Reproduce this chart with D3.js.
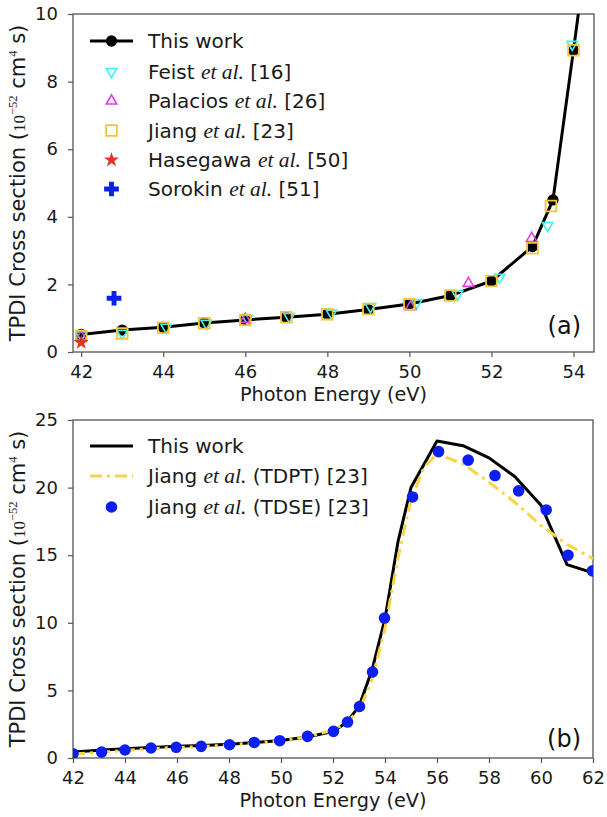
<!DOCTYPE html>
<html><head><meta charset="utf-8">
<script src="https://cdn.jsdelivr.net/npm/d3@7"></script>
<style>
body{margin:0;background:#fff;}
svg{display:block;font-family:"DejaVu Sans",sans-serif;}
</style></head><body>
<svg id="c" width="607" height="817"></svg>
<script>
// ---------- Panel (a) data ----------
const thisWorkA_x = [42,43,44,45,46,47,48,49,50,51,52,53,53.5,54,54.5];
const thisWorkA_y = [0.52,0.65,0.73,0.86,0.95,1.03,1.12,1.26,1.42,1.67,2.10,3.12,4.50,8.93,13.5];
const feist_x = [42,43.0,44.07,45.05,46.05,47.07,48.1,49.05,50.18,51.17,52.2,53.37,53.97];
const feist_y = [0.50,0.55,0.73,0.85,0.99,1.05,1.15,1.34,1.46,1.71,2.21,3.74,9.10];
const palacios_x = [42,46,50.03,51.44,52.98];
const palacios_y = [0.45,0.97,1.34,2.03,3.36];
const jiangA_x = [42,43,44,45,46,47,48,49,50,51,52,53,53.45,54];
const jiangA_y = [0.47,0.55,0.72,0.85,0.95,1.03,1.12,1.27,1.41,1.67,2.10,3.07,4.32,8.93];
const hasegawa_x = [42];
const hasegawa_y = [0.28];
const sorokin_x = [42.8];
const sorokin_y = [1.59];
const ticksAx = [42,44,46,48,50,52,54];
const ticksAy = [0,2,4,6,8,10];

// ---------- Panel (b) data ----------
const thisWorkB_x = [42,43,44,45,46,47,48,49,50,51,52,52.5,53,53.5,54,54.5,55,56,57,58,59,60,61,62];
const thisWorkB_y = [0.45,0.58,0.68,0.78,0.86,0.93,1.02,1.15,1.30,1.55,1.95,2.60,3.80,6.50,10.30,16.0,20.0,23.45,23.1,22.2,20.8,18.7,14.3,13.7];
const tdpt_x = [42,43,44,45,46,47,48,49,50,51,52,52.5,53,53.5,54,54.5,55,55.5,56,57,58,59,60,61,62];
const tdpt_y = [0.30,0.42,0.55,0.70,0.78,0.85,0.97,1.12,1.27,1.58,2.05,2.60,3.50,5.80,9.60,14.8,19.1,21.5,22.5,21.75,20.4,18.9,17.2,15.8,14.75];
const tdse_x = [42.0,43.1,44.0,45.0,45.97,46.93,48.02,48.97,49.95,51.02,52.02,52.56,53.02,53.52,53.98,55.06,56.06,57.2,58.23,59.14,60.2,61.04,61.98];
const tdse_y = [0.32,0.44,0.59,0.74,0.79,0.86,0.98,1.15,1.28,1.60,1.97,2.66,3.81,6.36,10.35,19.31,22.66,22.03,20.89,19.76,18.35,15.0,13.84];
const ticksBx = [42,44,46,48,50,52,54,56,58,60,62];
const ticksBy = [0,5,10,15,20,25];

const zip = (xs, ys) => xs.map((x, i) => ({x, y: ys[i]}));

const svg = d3.select("#c");
const C = {black:"#000", cyan:"#3ff2f2", magenta:"#e43de4", gold:"#f2c53d", red:"#e8302a", blue:"#0b1ff0", yellow:"#f7d448", spine:"#555"};
const FS_TICK = 18, FS_LAB = 19.3, FS_YLAB = 21, FS_LEG = 20, FS_IT = 21.5;

function panel(g, xs, ys, xt, yt, centerY) {
  const [x0, x1] = xs.range(), [y0, y1] = ys.range();
  g.append("rect").attr("x", x0).attr("y", y1).attr("width", x1 - x0).attr("height", y0 - y1)
    .attr("fill", "none").attr("stroke", C.spine).attr("stroke-width", 1.3);
  const ax = g.append("g").attr("transform", `translate(0,${y0})`)
    .call(d3.axisBottom(xs).tickValues(xt).tickSize(5).tickPadding(8).tickFormat(d3.format("d")));
  const ay = g.append("g").attr("transform", `translate(${x0},0)`)
    .call(d3.axisLeft(ys).tickValues(yt).tickSize(5).tickPadding(10).tickFormat(d3.format("d")));
  [ax, ay].forEach(a => {
    a.select(".domain").remove();
    a.selectAll(".tick line").attr("stroke", C.spine).attr("stroke-width", 1.2);
    a.selectAll(".tick text").attr("fill", "#1a1a1a").attr("font-size", FS_TICK)
      .attr("font-family", "DejaVu Sans");
  });
  g.append("text").attr("x", (x0 + x1) / 2).attr("y", y0 + 49).attr("text-anchor", "middle")
    .attr("font-size", FS_LAB).attr("fill", "#1a1a1a").text("Photon Energy (eV)");
  const yl = g.append("text").attr("transform", `translate(25,${centerY}) rotate(-90)`)
    .attr("text-anchor", "middle").attr("font-size", FS_YLAB).attr("fill", "#1a1a1a");
  yl.append("tspan").text("TPDI Cross section (");
  yl.append("tspan").attr("font-family", "Liberation Serif").attr("font-size", 17).text("10");
  yl.append("tspan").attr("font-family", "Liberation Serif").attr("font-size", 12.5).attr("dy", -8).text("−52");
  yl.append("tspan").attr("dy", 8).text(" cm");
  yl.append("tspan").attr("font-family", "Liberation Serif").attr("font-size", 12.5).attr("dy", -8).text("4");
  yl.append("tspan").attr("dy", 8).text(" s)");
}

function legendText(g, x, y, name, suffix) {
  const t = g.append("text").attr("x", x).attr("y", y + 7).attr("font-size", FS_LEG).attr("fill", "#1a1a1a");
  t.append("tspan").text(name + (name === "This work" ? "" : " "));
  if (suffix !== null) {
    t.append("tspan").attr("font-family", "Liberation Serif").attr("font-style", "italic").attr("font-size", FS_IT).text("et al.");
    t.append("tspan").text(" " + suffix);
  }
}

// symbols
const sym = {
  circle: d3.symbol(d3.symbolCircle, 100)(),
  tri: d3.symbol(d3.symbolTriangle, 48)(),
  square: d3.symbol(d3.symbolSquare, 115)(),
  star: d3.symbol(d3.symbolStar, 70)(),
  plus: d3.symbol(d3.symbolCross, 120)(),
  dot: d3.symbol(d3.symbolCircle, 105)()
};
function markers(g, data, xs, ys, path, fill, stroke, sw, rot) {
  g.selectAll(null).data(data).join("path").attr("d", path)
    .attr("transform", d => `translate(${xs(d.x)},${ys(d.y)})` + (rot ? ` rotate(${rot})` : ""))
    .attr("fill", fill).attr("stroke", stroke).attr("stroke-width", sw);
}

// ---------- Panel (a) ----------
const xa = d3.scaleLinear().domain([41.8, 54.5]).range([73, 594]);
const ya = d3.scaleLinear().domain([0, 10]).range([352, 14]);
const ga = svg.append("g");
svg.append("clipPath").attr("id", "clipA").append("rect").attr("x", 73).attr("y", 14).attr("width", 521).attr("height", 338);
panel(ga, xa, ya, ticksAx, ticksAy, 183);
const da = ga.append("g").attr("clip-path", "url(#clipA)");
const lineA = d3.line().x(d => xa(d.x)).y(d => ya(d.y));
da.append("path").datum(zip(thisWorkA_x, thisWorkA_y)).attr("d", lineA)
  .attr("fill", "none").attr("stroke", C.black).attr("stroke-width", 3).attr("stroke-linejoin", "round");
markers(da, zip(thisWorkA_x, thisWorkA_y), xa, ya, sym.circle, C.black, "none", 0);
markers(da, zip(feist_x, feist_y), xa, ya, sym.tri, "none", C.cyan, 1.6, 180);
markers(da, zip(palacios_x, palacios_y), xa, ya, sym.tri, "none", C.magenta, 1.6, 0);
markers(da, zip(jiangA_x, jiangA_y), xa, ya, sym.square, "none", C.gold, 1.8, 0);
markers(da, zip(hasegawa_x, hasegawa_y), xa, ya, sym.star, C.red, "none", 0);
markers(da, zip(sorokin_x, sorokin_y), xa, ya, sym.plus, C.blue, "none", 0);

// legend (a)
const legA = ga.append("g");
const rowsA = [41, 71.5, 101, 130.5, 160, 189];
legA.append("line").attr("x1", 90).attr("x2", 133).attr("y1", rowsA[0]).attr("y2", rowsA[0]).attr("stroke", C.black).attr("stroke-width", 3);
legA.append("path").attr("d", sym.circle).attr("transform", `translate(111.5,${rowsA[0]})`).attr("fill", C.black);
legA.append("path").attr("d", sym.tri).attr("transform", `translate(111.5,${rowsA[1]}) rotate(180)`).attr("fill", "none").attr("stroke", C.cyan).attr("stroke-width", 1.6);
legA.append("path").attr("d", sym.tri).attr("transform", `translate(111.5,${rowsA[2]})`).attr("fill", "none").attr("stroke", C.magenta).attr("stroke-width", 1.6);
legA.append("path").attr("d", sym.square).attr("transform", `translate(111.5,${rowsA[3]})`).attr("fill", "none").attr("stroke", C.gold).attr("stroke-width", 1.8);
legA.append("path").attr("d", sym.star).attr("transform", `translate(111.5,${rowsA[4]})`).attr("fill", C.red);
legA.append("path").attr("d", sym.plus).attr("transform", `translate(111.5,${rowsA[5]})`).attr("fill", C.blue);
legendText(legA, 148, rowsA[0], "This work", null);
legendText(legA, 148, rowsA[1], "Feist", "[16]");
legendText(legA, 148, rowsA[2], "Palacios", "[26]");
legendText(legA, 148, rowsA[3], "Jiang", "[23]");
legendText(legA, 148, rowsA[4], "Hasegawa", "[50]");
legendText(legA, 148, rowsA[5], "Sorokin", "[51]");
ga.append("text").attr("x", 581).attr("y", 334).attr("text-anchor", "end").attr("font-size", 24).attr("fill", "#111").text("(a)");

// ---------- Panel (b) ----------
const xb = d3.scaleLinear().domain([42, 62]).range([73, 593]);
const yb = d3.scaleLinear().domain([0, 25]).range([758, 420]);
const gb = svg.append("g");
svg.append("clipPath").attr("id", "clipB").append("rect").attr("x", 73).attr("y", 420).attr("width", 520).attr("height", 338);
panel(gb, xb, yb, ticksBx, ticksBy, 589);
const db = gb.append("g").attr("clip-path", "url(#clipB)");
const lineB = d3.line().x(d => xb(d.x)).y(d => yb(d.y));
db.append("path").datum(zip(thisWorkB_x, thisWorkB_y)).attr("d", lineB)
  .attr("fill", "none").attr("stroke", C.black).attr("stroke-width", 3).attr("stroke-linejoin", "round");
db.append("path").datum(zip(tdpt_x, tdpt_y)).attr("d", lineB)
  .attr("fill", "none").attr("stroke", C.yellow).attr("stroke-width", 3).attr("stroke-dasharray", "12,5,3,5");
markers(db, zip(tdse_x, tdse_y), xb, yb, sym.dot, C.blue, "none", 0);

const legB = gb.append("g");
const rowsB = [446, 476, 507];
legB.append("line").attr("x1", 90).attr("x2", 133).attr("y1", rowsB[0]).attr("y2", rowsB[0]).attr("stroke", C.black).attr("stroke-width", 3);
legB.append("line").attr("x1", 90).attr("x2", 133).attr("y1", rowsB[1]).attr("y2", rowsB[1]).attr("stroke", C.yellow).attr("stroke-width", 3).attr("stroke-dasharray", "12,5,3,5");
legB.append("path").attr("d", sym.dot).attr("transform", `translate(111.5,${rowsB[2]})`).attr("fill", C.blue);
legendText(legB, 148, rowsB[0], "This work", null);
legendText(legB, 148, rowsB[1], "Jiang", "(TDPT) [23]");
legendText(legB, 148, rowsB[2], "Jiang", "(TDSE) [23]");
gb.append("text").attr("x", 581).attr("y", 747).attr("text-anchor", "end").attr("font-size", 24).attr("fill", "#111").text("(b)");
</script>
</body></html>
